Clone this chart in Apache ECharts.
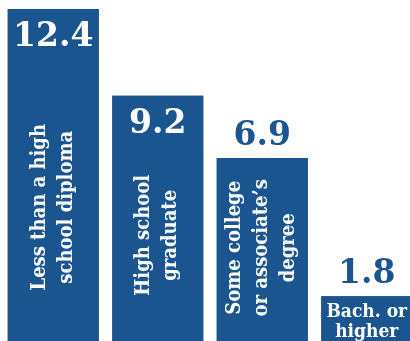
<!DOCTYPE html>
<html>
<head>
<meta charset="utf-8">
<script src="https://cdn.jsdelivr.net/npm/echarts@6/dist/echarts.min.js"></script>
<style>
  html, body { margin: 0; padding: 0; background: #ffffff; }
  #chart { width: 410px; height: 341px; }
</style>
</head>
<body>
<div id="chart"></div>
<script>
// Education levels and their values
const categories = [
  'Less than a high\nschool diploma',
  'High school\ngraduate',
  'Some college\nor associate\u2019s\ndegree',
  'Bach. or\nhigher'
];
const values = [12.4, 9.2, 6.9, 1.8];

const BLUE = '#1b5590';
const NUM_FONT = '"DejaVu Serif", serif';
const CAT_FONT = '"DejaVu Serif Condensed", "DejaVu Serif", serif';

// Value label: white inside the tall bars, blue above the short ones
function valueLabel(inside) {
  return {
    show: true,
    position: inside ? 'insideTop' : 'top',
    distance: inside ? 12 : 5,
    color: inside ? '#ffffff' : BLUE,
    fontFamily: NUM_FONT,
    fontWeight: 'bold',
    fontSize: 33,
    formatter: p => p.value.toFixed(1)
  };
}

// Category label drawn inside each bar
function catLabel(rotated, yPos) {
  return {
    show: true,
    position: ['50%', yPos],
    rotate: rotated ? 90 : 0,
    align: 'center',
    verticalAlign: 'middle',
    color: '#ffffff',
    fontFamily: CAT_FONT,
    fontWeight: 'bold',
    fontSize: rotated ? 20 : 19,
    lineHeight: rotated ? 27 : 20,
    formatter: p => p.name
  };
}

const insideValue = [true, true, false, false];
const catRotated = [true, true, true, false];
const catPos = ['59%', '56%', '48%', '52%'];

const chart = echarts.init(document.getElementById('chart'), null, { renderer: 'canvas' });
chart.setOption({
  animation: false,
  // plot area runs a little past the right and bottom edges of the canvas
  grid: {
    left: 1, top: 9, width: 418, height: 336,
    containLabel: false,
    outerBoundsMode: 'none'
  },
  xAxis: {
    type: 'category',
    data: categories,
    show: false
  },
  yAxis: {
    type: 'value',
    min: 0,
    max: 12.4,
    show: false
  },
  series: [
    {
      // bars with the value labels
      type: 'bar',
      barWidth: 91,
      itemStyle: { color: BLUE },
      data: values.map((v, i) => ({ value: v, label: valueLabel(insideValue[i]) }))
    },
    {
      // same bars again, carrying the category text
      type: 'bar',
      barWidth: 91,
      barGap: '-100%',
      itemStyle: { color: BLUE },
      data: values.map((v, i) => ({ value: v, label: catLabel(catRotated[i], catPos[i]) }))
    }
  ]
});
</script>
</body>
</html>
